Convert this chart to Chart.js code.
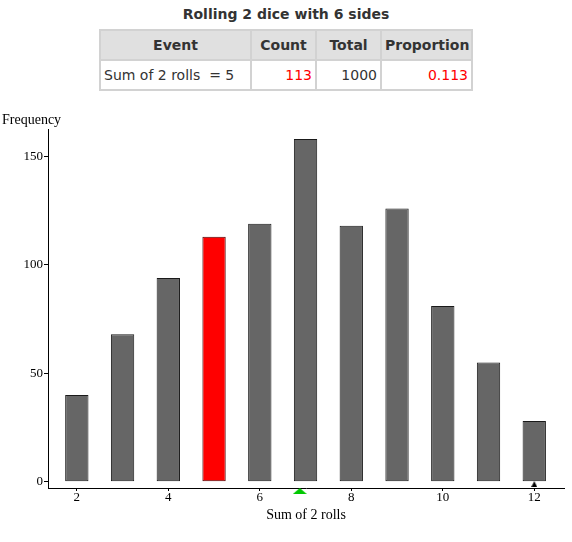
<!DOCTYPE html>
<html>
<head>
<meta charset="utf-8">
<script src="https://cdn.jsdelivr.net/npm/chart.js@4.4.0/dist/chart.umd.min.js"></script>
<style>
  body { margin: 0; width: 572px; height: 542px; background: #fff; position: relative; overflow: hidden;
         font-family: "DejaVu Sans", Verdana, sans-serif; color: #333; }
  #title { position: absolute; top: 6px; left: 0; width: 572px; text-align: center; font-size: 14px; font-weight: bold; }
  table { position: absolute; top: 29px; left: 99px; width: 372px; table-layout: fixed;
          border-collapse: collapse; font-size: 14px; }
  th, td { border: 2px solid #d2d2d2; height: 28px; padding: 0 3px; white-space: pre; overflow: hidden; }
  th { background: #e0e0e0; font-weight: bold; text-align: center; }
  td { text-align: right; }
  td.ev { text-align: left; }
  .red { color: #ff0000; }
  #wrap { position: absolute; top: 100px; left: 0; width: 572px; height: 442px; }
</style>
</head>
<body>
<div id="title"></div>
<table>
  <colgroup><col style="width:151px"><col style="width:65px"><col style="width:65px"><col style="width:91px"></colgroup>
  <tr><th>Event</th><th>Count</th><th>Total</th><th>Proportion</th></tr>
  <tr><td class="ev" id="evText"></td><td class="red" id="evCount"></td><td id="evTotal"></td><td class="red" id="evProp"></td></tr>
</table>
<div id="wrap"><canvas id="diceChart"></canvas></div>
<script>
// Dados
const sums = [2, 3, 4, 5, 6, 7, 8, 9, 10, 11, 12];
const counts = [40, 68, 94, 113, 119, 158, 118, 126, 81, 55, 28];
const eventSum = 5;
const totalRolls = 1000;
const xTicks = [2, 4, 6, 8, 10, 12];
const yTicks = [0, 50, 100, 150];
const markerAt = 12; // seta preta no eixo

// Cabeçalho e tabela
document.getElementById('title').textContent = 'Rolling 2 dice with 6 sides';
const evCount = counts[sums.indexOf(eventSum)];
document.getElementById('evText').textContent = 'Sum of 2 rolls  = ' + eventSum;
document.getElementById('evCount').textContent = evCount;
document.getElementById('evTotal').textContent = totalRolls;
document.getElementById('evProp').textContent = (evCount / totalRolls).toFixed(3);

// Média amostral (triângulo verde)
const mean = sums.reduce((a, s, i) => a + s * counts[i], 0) / counts.reduce((a, c) => a + c, 0);

// Triângulos achatados como pointStyle
function triangle(w, h, color) {
    const c = document.createElement('canvas');
    c.width = w; c.height = h;
    const g = c.getContext('2d');
    g.fillStyle = color;
    g.beginPath();
    g.moveTo(0, h); g.lineTo(w, h); g.lineTo(w / 2, 0);
    g.closePath(); g.fill();
    return c;
}
const greenTri = triangle(14, 6, '#00c800');
const blackTri = triangle(6, 6, '#000000');

const serif = '"Liberation Serif", "Times New Roman", serif';

const ctx = document.getElementById('diceChart').getContext('2d');
new Chart(ctx, {
    type: 'bar',
    data: {
        datasets: [{
            data: sums.map((s, i) => ({ x: s, y: counts[i] })),
            backgroundColor: sums.map(s => s === eventSum ? '#ff0000' : '#666666'),
            borderColor: sums.map(s => s === eventSum ? '#4a0000' : '#1a1a1a'),
            borderWidth: 1,
            borderSkipped: false,
            barPercentage: 0.51,
            categoryPercentage: 1
        }, {
            type: 'scatter',
            data: [{ x: mean, y: -4.3 }],
            pointStyle: greenTri,
            clip: false
        }, {
            type: 'scatter',
            data: [{ x: markerAt, y: -1.1 }],
            pointStyle: blackTri,
            clip: false
        }]
    },
    options: {
        responsive: true,
        maintainAspectRatio: false,
        animation: false,
        layout: { padding: { left: 2, right: 8, top: 0, bottom: 0 } },
        plugins: {
            legend: { display: false },
            tooltip: { enabled: false },
            title: {
                display: true,
                text: 'Frequency',
                align: 'start',
                color: '#000',
                font: { family: serif, size: 14, weight: 'normal' },
                padding: { top: 12, bottom: 1 }
            }
        },
        scales: {
            x: {
                type: 'linear',
                min: 1.37,
                max: 12.65,
                offset: false,
                afterBuildTicks: scale => { scale.ticks = xTicks.map(v => ({ value: v })); },
                afterFit: scale => { scale.height = 54; },
                grid: { offset: false, drawOnChartArea: false, drawTicks: true, tickLength: 3, color: '#000' },
                border: { display: true, color: '#000', width: 1 },
                ticks: { color: '#000', font: { family: serif, size: 13 }, padding: -1, maxRotation: 0 },
                title: {
                    display: true,
                    text: 'Sum of 2 rolls',
                    color: '#000',
                    font: { family: serif, size: 14 },
                    padding: { top: 0, bottom: 18.5 }
                }
            },
            y: {
                min: -2.9,
                max: 162.3,
                afterBuildTicks: scale => { scale.ticks = yTicks.map(v => ({ value: v })); },
                afterFit: scale => { scale.width = 46; },
                grid: { drawOnChartArea: false, drawTicks: true, tickLength: 4, color: '#000' },
                border: { display: true, color: '#000', width: 1 },
                ticks: { color: '#000', font: { family: serif, size: 13 }, padding: 1 }
            }
        }
    }
});
</script>
</body>
</html>
